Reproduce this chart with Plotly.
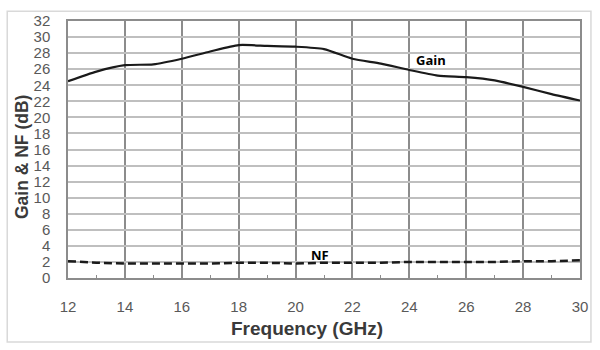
import plotly.graph_objects as go

freq = [12, 13, 14, 15, 16, 17, 18, 19, 20, 21, 22, 23, 24, 25, 26, 27, 28, 29, 30]
gain = [24.5, 25.7, 26.5, 26.6, 27.3, 28.2, 29.0, 28.9, 28.8, 28.5, 27.3, 26.7, 25.9, 25.2, 25.0, 24.6, 23.8, 22.9, 22.1]
nf = [2.1, 1.9, 1.8, 1.8, 1.8, 1.8, 1.9, 1.9, 1.8, 1.9, 1.9, 1.9, 2.0, 2.0, 2.0, 2.0, 2.1, 2.1, 2.2]

x_ticks = [12, 14, 16, 18, 20, 22, 24, 26, 28, 30]
y_ticks = list(range(0, 33, 2))

W, H = 600, 350
ml, mr, mt, mb = 68, 18, 17, 72
pw = W - ml - mr
ph = H - mt - mb

def px(xp):
    return (xp - ml) / pw

def py(yp):
    return (H - mb - yp) / ph

fig = go.Figure()
fig.add_trace(go.Scatter(x=freq, y=gain, mode="lines", line=dict(color="#1a1a1a", width=2.2, shape="spline", smoothing=0.6),
                         showlegend=False, name="Gain"))
fig.add_trace(go.Scatter(x=freq, y=nf, mode="lines", line=dict(color="#1a1a1a", width=2.5, dash="8px,4px"),
                         showlegend=False, name="NF"))

fig.add_annotation(x=24.75, y=27.1, text="<b>Gain</b>", showarrow=False,
                   font=dict(family="Open Sans, Liberation Sans", size=13, color="black"))
fig.add_annotation(x=20.86, y=2.9, text="<b>NF</b>", showarrow=False,
                   font=dict(family="Open Sans, Liberation Sans", size=13, color="black"))

fig.add_annotation(xref="paper", yref="paper", x=px(308), y=py(329), text="<b>Frequency (GHz)</b>",
                   showarrow=False, xanchor="center", yanchor="middle",
                   font=dict(family="Liberation Sans, Arial", size=19, color="#3a3a3a"))
fig.add_annotation(xref="paper", yref="paper", x=px(22), y=py(155), text="<b>Gain & NF (dB)</b>",
                   showarrow=False, xanchor="center", yanchor="middle", textangle=-90,
                   font=dict(family="Liberation Sans, Arial", size=17.5, color="#3a3a3a"))

fig.add_shape(type="rect", xref="paper", yref="paper", x0=px(7), x1=px(593), y0=py(343), y1=py(7),
              line=dict(color="#d9d9d9", width=1.5), layer="below")

fig.update_xaxes(range=[12, 30], tickvals=x_ticks, ticktext=[str(v) for v in x_ticks],
                 showgrid=True, gridcolor="#8c8c8c", gridwidth=1.5,
                 showline=True, linecolor="#8c8c8c", linewidth=1.5, mirror=True,
                 ticks="", ticklabelstandoff=14,
                 minor=dict(tickvals=list(range(13, 30, 2)), ticks="inside", ticklen=3, tickcolor="#8c8c8c", showgrid=False),
                 tickfont=dict(family="Liberation Sans, Arial", size=15, color="#595959"),
                 zeroline=False)
fig.update_yaxes(range=[0, 32], tickvals=y_ticks, ticktext=[str(v) for v in y_ticks],
                 showgrid=True, gridcolor="#bfbfbf", gridwidth=2,
                 showline=True, linecolor="#8c8c8c", linewidth=1.5, mirror=True,
                 ticks="", ticklabelstandoff=13,
                 tickfont=dict(family="Liberation Sans, Arial", size=15, color="#595959"),
                 zeroline=False)

fig.update_layout(width=W, height=H, margin=dict(l=ml, r=mr, t=mt, b=mb),
                  plot_bgcolor="white", paper_bgcolor="white")

fig.write_html("out.html")
